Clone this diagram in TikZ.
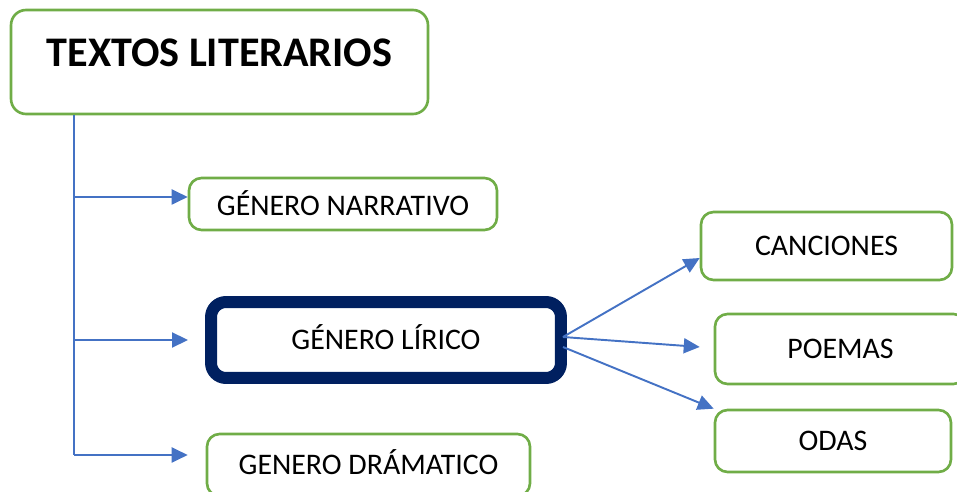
\documentclass[tikz,border=0pt]{standalone}
\usepackage{fontspec}
\setmainfont{Carlito}
\usetikzlibrary{arrows.meta,calc}
\definecolor{verde}{HTML}{70AD47}
\definecolor{azul}{HTML}{4472C4}
\definecolor{marino}{HTML}{002060}
\begin{document}
\begin{tikzpicture}[x=0.02cm,y=-0.02cm,>={Triangle[length=0.32cm,width=0.3cm]},line join=round,
	caja/.style={draw=verde,line width=1.5pt,rounded corners=0.25cm,fill=white,font=\fontsize{17}{20}\selectfont,text height=0.38cm,text depth=0pt,inner sep=0pt},
	flecha/.style={azul,line width=1.1pt,->}]
	\useasboundingbox (0,0) rectangle (957,492);
	% cajas
	\node[caja,rounded corners=0.3cm,minimum width=8.34cm,minimum height=2.08cm,font=\fontsize{24}{28}\bfseries\selectfont,text height=0.54cm,text depth=0.36cm] (lit) at (219.5,62) {TEXTOS LITERARIOS};
	\node[caja,minimum width=6.16cm,minimum height=1.04cm,text height=0.45cm] (nar) at (343,204) {GÉNERO NARRATIVO};
	\node[caja,draw=marino,line width=0.24cm,rounded corners=0.3cm,minimum width=7cm,minimum height=1.52cm] (lir) at (386,340) {GÉNERO LÍRICO};
	\node[caja,minimum width=6.46cm,minimum height=1.24cm] (dra) at (368.5,465) {GENERO DRÁMATICO};
	\node[caja,minimum width=5.02cm,minimum height=1.36cm] (can) at (826.5,246) {CANCIONES};
	\node[caja,minimum width=5.02cm,minimum height=1.4cm] (poe) at (840.5,349) {POEMAS};
	\node[caja,minimum width=4.72cm,minimum height=1.24cm] (oda) at (833,441) {ODAS};
	% tronco
	\coordinate (tr) at ($(lit.south west)+(64,0)$);
	\draw[azul,line width=1.1pt] (tr)--(tr |- 0,455);
	\draw[flecha] (tr |- 0,197)--($(nar.west)+(0,-7)$);
	\draw[flecha,shorten >=0.34cm] (tr |- lir.west)--(lir.west);
	\draw[flecha,shorten >=0.36cm] (tr |- 0,455)--($(dra.west)+(0,-10)$);
	% ramas del lirico
	\coordinate (l1) at ($(lir.east)+(-4,-3)$);
	\coordinate (l2) at ($(lir.east)+(-4,7)$);
	\draw[flecha] (l1)--($(can.west)+(0,12)$);
	\draw[flecha,shorten >=0.28cm] (l1)--($(poe.west)+(0,-1)$);
	\draw[flecha] (l2)--(oda.north west);
\end{tikzpicture}
\end{document}
